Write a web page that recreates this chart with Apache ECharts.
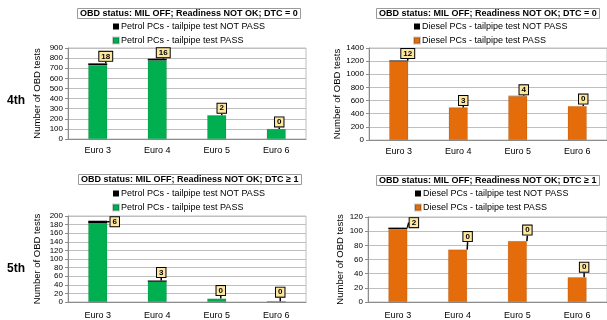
<!DOCTYPE html>
<html>
<head>
<meta charset="utf-8">
<script src="https://cdn.jsdelivr.net/npm/echarts@6/dist/echarts.min.js"></script>
<style>
html,body{margin:0;padding:0;background:#fff;}
#c{width:607px;height:320px;}
</style>
</head>
<body>
<div id="c"></div>
<script>
// ---- data ----
var categories = ['Euro 3', 'Euro 4', 'Euro 5', 'Euro 6'];
var panelTitles = [
  'OBD status: MIL OFF; Readiness NOT OK; DTC = 0',
  'OBD status: MIL OFF; Readiness NOT OK; DTC = 0',
  'OBD status: MIL OFF; Readiness NOT OK; DTC \u2265 1',
  'OBD status: MIL OFF; Readiness NOT OK; DTC \u2265 1'
];
var rowLabels = ['4th', '5th'];
var petrolFailName = 'Petrol PCs - tailpipe test NOT PASS';
var petrolPassName = 'Petrol PCs - tailpipe test PASS';
var dieselFailName = 'Diesel PCs - tailpipe test NOT PASS';
var dieselPassName = 'Diesel PCs - tailpipe test PASS';

var petrol4Pass = [730, 778, 233, 100];
var petrol4Fail = [18, 16, 2, 0];
var diesel4Pass = [1198, 492, 668, 516];
var diesel4Fail = [12, 3, 4, 0];
var petrol5Pass = [183, 47, 8, 2];
var petrol5Fail = [6, 3, 0, 0];
var diesel5Pass = [103, 74, 86, 35];
var diesel5Fail = [2, 0, 0, 0];

var yMax = [900, 1400, 200, 120];
var yInterval = [100, 200, 20, 20];
var yAxisName = 'Number of OBD tests';

// ---- layout (not data) ----
var labelOffsets = [
  [[8, -7], [6, -6], [5, -7], [3, -7]],
  [[9, -7], [5, -7], [6, -6], [6, -7]],
  [[17, 1], [4, -8], [4, -8], [4, -9]],
  [[16, -5], [10, -13], [10, -11], [7, -10]]
];
var grids = [
  {left: 68, top: 48, width: 238, height: 91},
  {left: 369, top: 48, width: 250, height: 92},
  {left: 68, top: 216, width: 238, height: 90},
  {left: 368, top: 217, width: 251, height: 89}
];
var nameGaps = [26, 23, 26, 23];
var catMargins = [7, 7, 9, 9];
var passColor = ['#00b050', '#e46c0a', '#00b050', '#e46c0a'];

var chart = echarts.init(document.getElementById('c'), null, {renderer: 'canvas'});
var FONT = '"Liberation Sans", Arial, sans-serif';

var passData = [petrol4Pass, diesel4Pass, petrol5Pass, diesel5Pass];
var failData = [petrol4Fail, diesel4Fail, petrol5Fail, diesel5Fail];
var passNames = [petrolPassName, dieselPassName, petrolPassName, dieselPassName];
var failNames = [petrolFailName, dieselFailName, petrolFailName, dieselFailName];

var xAxes = [], yAxes = [], series = [], titles = [], legends = [];
var titlePos = [[77, 8], [376, 8], [78, 174], [376, 175]];
var legendPos = [[112, 22], [413, 22], [112, 189], [414, 189]];

for (var i = 0; i < 4; i++) {
  xAxes.push({
    type: 'category', gridIndex: i, data: categories,
    axisLine: {lineStyle: {color: '#8c8c8c', width: 1}},
    axisTick: {show: false},
    axisLabel: {color: '#000', fontSize: 9, fontFamily: FONT, margin: catMargins[i]}
  });
  yAxes.push({
    type: 'value', gridIndex: i, min: 0, max: yMax[i], interval: yInterval[i],
    name: yAxisName, nameLocation: 'middle', nameGap: nameGaps[i],
    nameTextStyle: {color: '#000', fontSize: 9.5, fontFamily: FONT},
    axisLine: {show: true, lineStyle: {color: '#8c8c8c'}},
    axisTick: {show: true, length: 3, lineStyle: {color: '#8c8c8c'}},
    axisLabel: {color: '#000', fontSize: 8, fontFamily: FONT, margin: 5,
      formatter: function (v) { return String(v); }},
    splitLine: {lineStyle: {color: '#bfbfbf', width: 1}}
  });
  series.push({
    type: 'bar', name: passNames[i], xAxisIndex: i, yAxisIndex: i, stack: 's' + i,
    data: passData[i], barWidth: 19,
    itemStyle: {color: passColor[i], borderColor: 'rgba(0,0,0,0.2)', borderWidth: 0.5},
    silent: true
  });
  (function (idx) {
    series.push({
      type: 'bar', name: failNames[idx], xAxisIndex: idx, yAxisIndex: idx, stack: 's' + idx,
      data: failData[idx], barWidth: 19,
      itemStyle: {color: '#000'},
      silent: true,
      label: {
        show: true, position: 'top', formatter: '{c}',
        fontSize: 8, fontWeight: 'bold', fontFamily: FONT, color: '#000',
        backgroundColor: '#fde7a0', borderColor: '#000', borderWidth: 1,
        padding: [1, 2, 0, 2]
      },
      labelLine: {show: true, lineStyle: {color: '#000', width: 1.5}},
      labelLayout: function (p) {
        var off = labelOffsets[idx][p.dataIndex];
        var cx = p.rect.x + p.rect.width / 2;
        var top = p.rect.y;
        var x = cx + off[0], y = top + off[1];
        var lw = p.labelRect.width, lh = p.labelRect.height;
        return {
          x: x, y: y, align: 'center', verticalAlign: 'middle',
          labelLinePoints: [[cx, top], [x - lw / 2 + 2, y + lh / 2], [x - lw / 2 + 2, y + lh / 2]]
        };
      }
    });
  })(i);
  titles.push({
    text: panelTitles[i], left: titlePos[i][0], top: titlePos[i][1],
    padding: [1, 3, 0, 3], borderColor: '#9a9a9a', borderWidth: 1,
    textStyle: {fontSize: 9, fontWeight: 'bold', color: '#000', fontFamily: FONT, lineHeight: 10}
  });
  legends.push({
    orient: 'vertical', left: legendPos[i][0], top: legendPos[i][1],
    data: [failNames[i], passNames[i]], icon: 'rect', itemWidth: 6, itemHeight: 6,
    itemGap: 5, padding: 0, selectedMode: false,
    textStyle: {fontSize: 9, color: '#000', fontFamily: FONT, padding: [0, 0, 0, -3]}
  });
}

var option = {
  animation: false,
  backgroundColor: '#fff',
  title: titles,
  legend: legends,
  grid: grids.map(function (g) {
    return {left: g.left, top: g.top, width: g.width, height: g.height,
      show: true, borderColor: '#bfbfbf', borderWidth: 1, containLabel: false};
  }),
  xAxis: xAxes,
  yAxis: yAxes,
  series: series,
  graphic: [
    {type: 'text', left: 7, top: 95, style: {text: rowLabels[0], font: 'bold 12px ' + FONT, fill: '#000'}},
    {type: 'text', left: 7, top: 263, style: {text: rowLabels[1], font: 'bold 12px ' + FONT, fill: '#000'}}
  ]
};
chart.setOption(option);
</script>
</body>
</html>
